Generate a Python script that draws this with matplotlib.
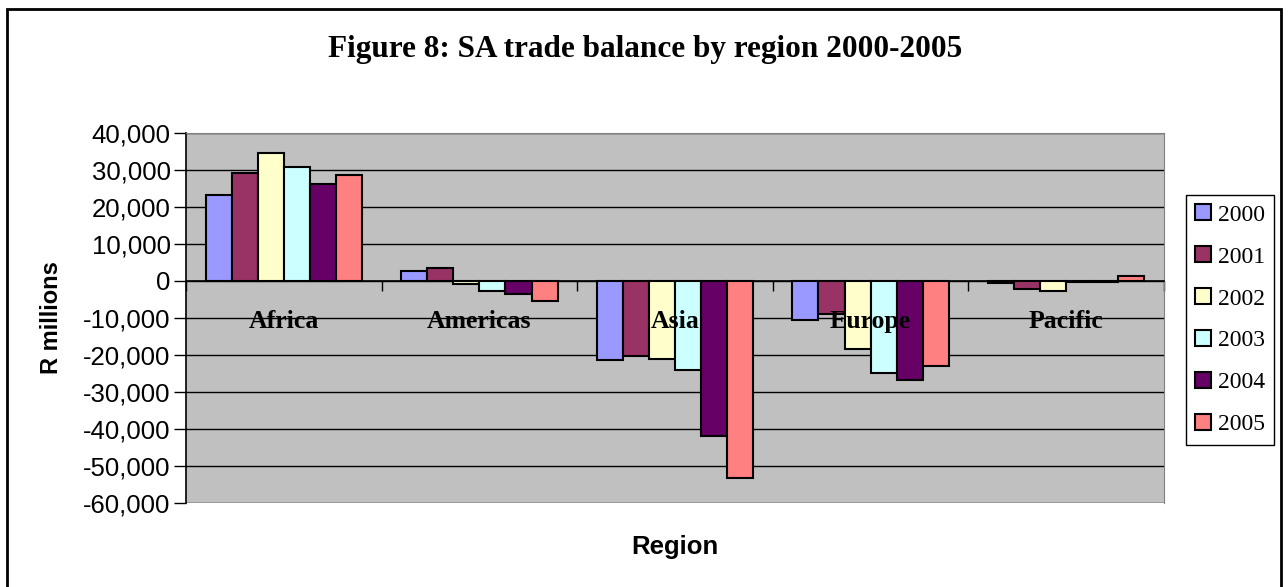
import numpy as np
import matplotlib
matplotlib.use("Agg")
import matplotlib.pyplot as plt
from matplotlib.patches import Rectangle

# data (R millions)
regions = ["Africa", "Americas", "Asia", "Europe", "Pacific"]
years = ["2000", "2001", "2002", "2003", "2004", "2005"]
y2000 = [23200, 2700, -21400, -10600, -500]
y2001 = [29200, 3400, -20300, -9000, -2100]
y2002 = [34600, -900, -21000, -18300, -2700]
y2003 = [30800, -2600, -24100, -24800, -400]
y2004 = [26100, -3600, -41900, -26800, -400]
y2005 = [28600, -5400, -53300, -23100, 1400]
series = [y2000, y2001, y2002, y2003, y2004, y2005]
colors = ["#9999FF", "#993366", "#FFFFCC", "#CCFFFF", "#660066", "#FF8080"]
yticks = list(range(-60000, 40001, 10000))

fig = plt.figure(figsize=(12.88, 5.87), dpi=100)
ax = fig.add_axes([186 / 1288, 1 - 503 / 587, 978 / 1288, 370 / 587])
ax.set_facecolor("#C0C0C0")

x = np.arange(len(regions))
w = 0.8 / len(years)
for i, (vals, c, yr) in enumerate(zip(series, colors, years)):
    ax.bar(x - 0.4 + w * (i + 0.5), vals, width=w, color=c, edgecolor="black",
           linewidth=1.5, label=yr, zorder=3)

ax.set_xlim(-0.5, len(regions) - 0.5)
ax.set_ylim(-60000, 40000)
ax.set_yticks(yticks)
ax.set_yticklabels([f"{v:,}" for v in yticks], family="Liberation Sans", fontsize=18.5)
ax.yaxis.grid(True, color="black", linewidth=1)
ax.set_axisbelow(True)
ax.tick_params(axis="y", length=9, width=1, pad=2)

# category axis sits at zero
ax.spines["bottom"].set_position(("data", 0))
ax.spines["bottom"].set_zorder(4)
ax.spines["bottom"].set_linewidth(1.2)
ax.spines["left"].set_linewidth(1.2)
for s in ["top", "right"]:
    ax.spines[s].set_color("#808080")
ax.set_xticks(np.arange(len(regions) + 1) - 0.5)
ax.set_xticklabels([])
ax.tick_params(axis="x", which="major", length=7, width=1, direction="out")

# category names are drawn over the bars, as in the original
for xi, name in zip(x, regions):
    ax.annotate(name, xy=(xi, 0), xytext=(0, -29), textcoords="offset points",
                ha="center", va="center", family="Liberation Serif",
                fontweight="bold", fontsize=18.5, zorder=6)

ax.set_ylabel("R millions", family="Liberation Sans", fontweight="bold",
              fontsize=17)
ax.yaxis.set_label_coords(-123 / 978, 0.5)
fig.text(675 / 1288, 1 - 547 / 587, "Region", family="Liberation Sans",
         fontweight="bold", fontsize=18.5, ha="center", va="center")
fig.text(645 / 1288, 1 - 50 / 587, "Figure 8: SA trade balance by region 2000-2005",
         family="Liberation Serif", fontweight="bold", fontsize=22.5,
         ha="center", va="center")

leg = fig.legend(loc="upper left", bbox_to_anchor=(1186 / 1288, 1 - 195 / 587),
                 prop={"family": "Liberation Serif", "size": 17},
                 fancybox=False, edgecolor="black", framealpha=1,
                 labelspacing=0.88, handlelength=0.65, handleheight=0.65,
                 handletextpad=0.3, borderpad=0.4, borderaxespad=0)
leg.get_frame().set_linewidth(1)

fig.patches.append(Rectangle((7 / 1288, -0.02), 1274 / 1288, 1 - 9 / 587 + 0.02,
                             transform=fig.transFigure, fill=False,
                             edgecolor="black", linewidth=2))

fig.savefig("out.png", dpi=100)
